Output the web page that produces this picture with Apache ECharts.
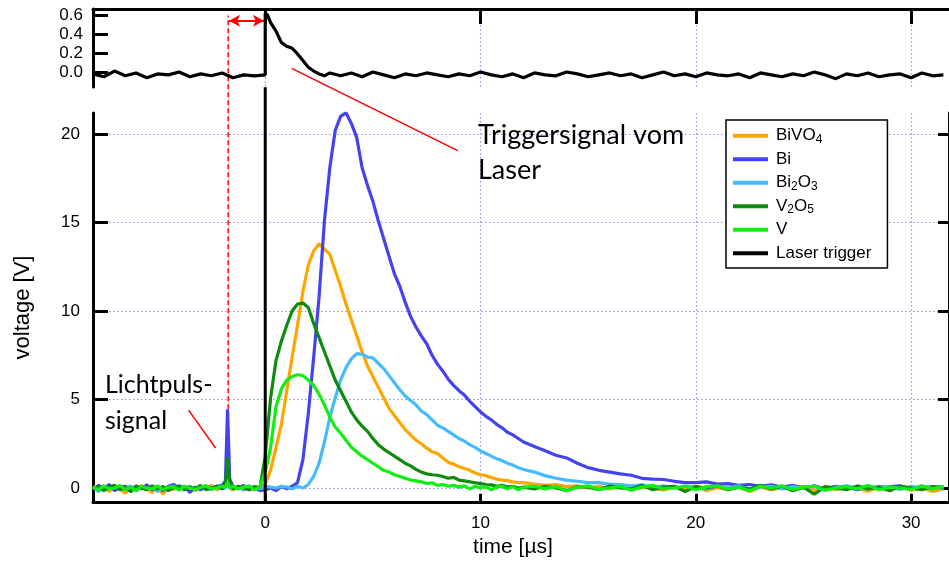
<!DOCTYPE html>
<html><head><meta charset="utf-8">
<script src="https://cdn.jsdelivr.net/npm/echarts@6/dist/echarts.min.js"></script>
<style>html,body{margin:0;padding:0;background:#fff}#c{width:949px;height:564px}</style>
</head><body><div id="c"></div>
<script>
// ---------- data ----------
const time = [-8,-7.75,-7.5,-7.25,-7,-6.75,-6.5,-6.25,-6,-5.75,-5.5,-5.25,-5,-4.75,-4.5,-4.25,-4,-3.75,-3.5,-3.25,-3,-2.75,-2.5,-2.25,-2,
  -1.85,-1.75,-1.65,
  -1.5,-1.25,-1,-0.75,-0.5,-0.25,0,0.25,0.5,0.75,1,1.25,1.5,1.75,2,2.25,2.5,2.75,3,3.25,3.5,3.75,4,4.25,4.5,4.75,5,5.25,5.5,5.75,6,6.25,6.5,6.75,7,7.25,7.5,7.75,8,8.25,8.5,8.75,9,9.25,9.5,9.75,10,10.25,10.5,10.75,11,11.25,11.5,11.75,12,
  12.5,13,13.5,14,14.5,15,15.5,16,16.5,17,17.5,18,18.5,19,19.5,20,20.5,21,21.5,22,22.5,23,23.5,24,24.5,25,25.5,26,26.5,27,27.5,28,28.5,29,29.5,30,30.5,31,31.5];

const bivo4 = [0.1,-0.15,0.05,-0.2,0.12,-0.05,-0.3,0.08,-0.1,0.15,-0.05,-0.25,0.1,-0.35,0.05,-0.1,0.12,-0.08,0.05,-0.15,0.1,-0.05,0.15,-0.1,0.05,
  0.1,0.3,0.0,
  -0.1,0.08,-0.12,0.05,-0.08,0.1,0.25,1.0,2.3,3.6,5.5,7.4,9.2,11.1,12.6,13.4,13.8,13.5,13.2,12.3,11.4,10.4,9.5,8.6,7.7,6.9,6.3,5.7,5.1,4.5,4.1,3.7,3.3,3.0,2.7,2.5,2.25,2.05,1.95,1.7,1.45,1.35,1.2,1.1,1.0,0.85,0.75,0.7,0.6,0.5,0.45,0.42,0.35,0.3,0.3,
  0.22,0.15,0.2,0.08,0.12,0.0,0.1,-0.05,0.08,-0.1,0.05,0.0,-0.12,0.08,-0.05,0.1,-0.15,0.02,-0.08,0.06,-0.2,0.05,-0.1,0.0,-0.05,0.1,-0.15,0.05,-0.1,0.08,-0.02,-0.18,0.05,-0.08,0.1,-0.12,0.0,-0.2,-0.05];

const bi = [-0.1,0.15,-0.05,0.2,-0.15,0.05,0.1,-0.2,0.12,-0.05,0.18,-0.1,0.05,-0.15,0.1,0.2,-0.05,0.1,-0.25,0.05,-0.1,0.12,-0.05,0.08,0.15,
  0.4,4.45,0.5,
  0.1,-0.05,0.15,-0.1,0.05,-0.15,-0.1,0.0,-0.15,0.1,-0.05,0.1,0.3,1.6,4.2,7.4,10.8,15.1,18.1,20.2,21.0,21.2,20.6,19.8,18.1,17.1,16.2,15.1,14.1,13.1,12.1,11.4,10.5,9.7,9.1,8.6,8.15,7.5,7.0,6.6,6.15,5.8,5.5,5.25,4.9,4.6,4.3,4.05,3.85,3.6,3.4,3.15,3.0,2.8,2.6,
  2.35,2.1,1.85,1.7,1.4,1.15,1.0,0.9,0.8,0.72,0.55,0.5,0.48,0.38,0.3,0.3,0.35,0.22,0.25,0.15,0.2,0.1,0.18,0.05,0.15,0.0,0.12,-0.05,0.1,0.05,-0.1,0.1,0.0,0.08,0.12,-0.05,0.1,0.0,0.05];

const bi2o3 = [0.05,-0.2,0.1,-0.05,0.15,-0.1,0.0,0.12,-0.15,0.05,-0.05,0.1,-0.2,0.08,-0.1,0.0,0.15,-0.05,0.1,-0.12,0.05,0.0,-0.1,0.12,-0.05,
  0.0,0.2,0.05,
  -0.05,0.1,-0.1,0.0,0.08,-0.05,0.1,0.05,0.0,0.1,0.05,-0.05,0.1,0.0,0.2,0.65,1.4,2.6,4.0,5.1,6.1,6.8,7.3,7.6,7.55,7.4,7.35,7.05,6.75,6.35,5.95,5.55,5.2,4.95,4.7,4.35,4.15,3.85,3.55,3.4,3.2,3.0,2.8,2.65,2.45,2.3,2.1,1.95,1.8,1.65,1.55,1.4,1.3,1.15,1.05,
  0.9,0.7,0.55,0.45,0.38,0.3,0.3,0.22,0.2,0.12,0.18,0.05,0.12,0.0,0.1,0.05,-0.05,0.1,0.0,0.12,-0.08,0.05,0.1,-0.05,0.08,0.0,0.1,-0.1,0.05,0.12,0.0,-0.05,0.1,0.05,-0.08,0.1,0.0,0.08,-0.05];

const v2o5 = [-0.05,0.1,-0.15,0.05,0.15,-0.1,0.05,-0.2,0.1,0.0,-0.1,0.12,-0.05,0.08,-0.15,0.05,0.1,-0.1,0.05,-0.05,0.15,-0.1,0.0,0.1,-0.05,
  0.2,1.7,0.2,
  -0.05,0.1,0.0,-0.1,0.08,0.0,1.8,5.1,7.2,8.3,9.2,10.0,10.4,10.45,10.2,9.3,8.5,7.7,6.9,6.1,5.5,4.9,4.3,3.85,3.5,3.2,2.8,2.45,2.2,2.0,1.8,1.6,1.4,1.25,1.05,0.9,0.8,0.75,0.72,0.65,0.55,0.6,0.45,0.4,0.35,0.3,0.25,0.2,0.18,0.1,0.15,0.05,0.1,0.0,0.05,
  -0.05,0.1,0.0,-0.15,0.08,0.05,-0.1,0.12,0.0,-0.05,0.15,-0.1,0.05,0.1,-0.2,0.08,0.0,0.12,-0.1,0.05,-0.05,0.15,-0.05,0.1,-0.15,0.05,-0.35,0.08,0.0,-0.1,0.12,-0.05,0.05,-0.15,0.1,0.0,-0.1,0.08,0.05];

const vMetal = [0.05,-0.1,0.12,-0.05,0.0,0.15,-0.1,0.05,-0.15,0.1,0.0,-0.05,0.12,-0.1,0.05,0.08,-0.12,0.1,0.0,-0.08,0.05,0.12,-0.05,0.0,0.1,
  0.05,0.3,0.0,
  0.1,-0.05,0.05,0.12,-0.1,0.05,0.9,2.3,4.6,5.6,6.1,6.3,6.4,6.35,6.1,5.8,5.3,4.7,4.0,3.45,3.1,2.7,2.3,2.05,1.8,1.6,1.4,1.2,1.0,0.9,0.75,0.65,0.55,0.45,0.4,0.35,0.25,0.3,0.15,0.2,0.1,0.15,0.05,0.12,-0.05,0.1,0.0,0.08,-0.1,0.05,0.1,-0.05,0.08,-0.1,0.05,
  0.1,-0.05,0.08,-0.15,0.05,0.12,-0.08,0.0,0.1,-0.12,0.05,0.15,-0.05,0.0,0.1,-0.1,0.08,0.12,-0.05,0.05,-0.15,0.1,0.0,0.12,-0.08,0.05,0.1,-0.12,0.0,0.08,-0.05,0.15,-0.1,0.05,0.0,-0.08,0.12,-0.05,0.1];

const laserTime = [-8,-7.5,-7,-6.5,-6,-5.5,-5,-4.5,-4,-3.5,-3,-2.5,-2,-1.5,-1,-0.5,
  0,0,0.1,0.25,0.5,0.75,1,1.25,1.5,1.75,2,2.25,2.5,2.75,3,
  3.5,4,4.5,5,5.5,6,6.5,7,7.5,8,8.5,9,9.5,10,10.5,11,11.5,12,12.5,13,13.5,14,14.5,15,15.5,16,16.5,17,17.5,18,18.5,19,19.5,20,20.5,21,21.5,22,22.5,23,23.5,24,24.5,25,25.5,26,26.5,27,27.5,28,28.5,29,29.5,30,30.5,31,31.5];
const laserV = [-0.02,-0.05,0.01,-0.04,-0.01,-0.06,-0.02,-0.03,0.0,-0.05,-0.02,-0.04,-0.01,-0.06,-0.03,-0.04,
  -0.03,0.62,0.6,0.52,0.43,0.31,0.27,0.25,0.19,0.12,0.05,0.01,-0.02,-0.04,-0.01,
  -0.04,-0.01,-0.05,0.0,-0.03,-0.06,-0.02,-0.04,-0.01,-0.03,-0.05,-0.02,-0.04,0.0,-0.03,-0.05,-0.02,-0.06,-0.01,-0.03,
  -0.04,0.0,-0.02,-0.05,-0.03,-0.01,-0.04,-0.02,-0.06,-0.03,0.0,-0.04,-0.02,-0.05,-0.01,-0.03,-0.04,-0.02,-0.06,-0.01,
  -0.03,-0.05,-0.02,-0.04,0.0,-0.03,-0.07,-0.02,-0.04,-0.01,-0.05,-0.03,-0.02,-0.06,-0.01,-0.04,-0.03];

// vertical trigger line in the main panel and annotation pointers
const laserLineT = [0, 0];
const laserLineV = [-0.79, 22.65];
const pulseMarkT = [-1.72, -1.72];
const pulseMarkV = [4.45, 26.7];
const trigPointerT = [1.23, 8.94];
const trigPointerV = [23.71, 19.06];
const pulsePointerT = [-3.56, -2.31];
const pulsePointerV = [4.4, 2.26];
const arrowT = [-1.68, -0.06];
const arrowV = [0.54, 0.54];

const xTicks = [0, 10, 20, 30];
const yTicksMain = [0, 5, 10, 15, 20];
const yTicksTop = [0, 0.2, 0.4, 0.6];

const names = ['BiVO4', 'Bi', 'Bi2O3', 'V2O5', 'V', 'Laser trigger'];
const legendLabels = {'BiVO4':'BiVO{s|4}', 'Bi':'Bi', 'Bi2O3':'Bi{s|2}O{s|3}', 'V2O5':'V{s|2}O{s|5}', 'V':'V', 'Laser trigger':'Laser trigger'};
const colors = {'BiVO4':'#FFA500', 'Bi':'#4343F0', 'Bi2O3':'#45BBFF', 'V2O5':'#0E8C0E', 'V':'#11EE11', 'Laser trigger':'#000000'};

// ---------- chart ----------
const zip = (xs, ys) => xs.map((x, i) => [x, ys[i]]);
const FONT = 'Liberation Sans';
const gridColor = '#8C8CFF';
const chart = echarts.init(document.getElementById('c'), null, {renderer: 'canvas'});

function mainSeries(name, vals) {
  return {name, type: 'line', xAxisIndex: 1, yAxisIndex: 1, data: zip(time, vals),
    showSymbol: false, symbol: 'none', color: colors[name],
    lineStyle: {width: 3.2, color: colors[name]}, z: 3};
}
function helper(xs, ys, style, clip) {
  return {type: 'line', xAxisIndex: 1, yAxisIndex: 1, data: zip(xs, ys), showSymbol: false, symbol: 'none',
    clip: clip, silent: true, lineStyle: style, z: 4};
}
const dotted = {color: gridColor, type: [1.5, 2.5], width: 1.2};

chart.setOption({
  animation: false,
  backgroundColor: '#fff',
  grid: [
    {left: 93, top: 9, right: -4, height: 78},
    {left: 93, top: 113, right: -4, bottom: 62}
  ],
  xAxis: [
    {gridIndex: 0, type: 'value', min: -8, max: 31.76, position: 'top',
      axisLine: {show: true, onZero: false, lineStyle: {color: '#000', width: 3}},
      axisTick: {show: true, inside: true, length: 15, customValues: xTicks, lineStyle: {color: '#000', width: 3}},
      axisLabel: {show: false, customValues: xTicks},
      splitLine: {show: true, lineStyle: dotted}},
    {gridIndex: 1, type: 'value', min: -8, max: 31.76, position: 'bottom',
      axisLine: {show: true, onZero: false, lineStyle: {color: '#000', width: 3}},
      axisTick: {show: true, inside: true, length: 8, customValues: xTicks, lineStyle: {color: '#000', width: 3}},
      axisLabel: {customValues: xTicks, fontSize: 17, color: '#000', fontFamily: FONT, margin: 13},
      splitLine: {show: true, lineStyle: dotted},
      name: 'time [µs]', nameLocation: 'middle', nameGap: 35,
      nameTextStyle: {fontSize: 21, color: '#000', fontFamily: FONT, padding: [0, 16, 0, 0]}}
  ],
  yAxis: [
    {gridIndex: 0, type: 'value', min: -0.158, max: 0.663, position: 'left',
      axisLine: {show: true, onZero: false, lineStyle: {color: '#000', width: 3}},
      axisTick: {show: true, inside: true, length: 15, customValues: yTicksTop, lineStyle: {color: '#000', width: 3}},
      axisLabel: {customValues: yTicksTop, fontSize: 17, color: '#000', fontFamily: FONT, margin: 10,
        formatter: v => v.toFixed(1)},
      splitLine: {show: false}},
    {gridIndex: 1, type: 'value', min: -0.79, max: 21.19, position: 'left',
      axisLine: {show: true, onZero: false, lineStyle: {color: '#000', width: 3}},
      axisTick: {show: true, inside: true, length: 15, customValues: yTicksMain, lineStyle: {color: '#000', width: 3}},
      axisLabel: {customValues: yTicksMain, fontSize: 17, color: '#000', fontFamily: FONT, margin: 13},
      splitLine: {show: true, lineStyle: dotted},
      name: 'voltage [V]', nameLocation: 'middle', nameGap: 59,
      nameTextStyle: {fontSize: 22, color: '#000', fontFamily: FONT}},
    {gridIndex: 1, type: 'value', min: -0.79, max: 21.19, position: 'right',
      axisLine: {show: true, onZero: false, lineStyle: {color: '#000', width: 3}},
      axisTick: {show: true, inside: true, length: 11, customValues: yTicksMain, lineStyle: {color: '#000', width: 3}},
      axisLabel: {show: false, customValues: yTicksMain},
      splitLine: {show: false}}
  ],
  legend: {
    data: names, orient: 'vertical', left: 726, top: 120,
    itemWidth: 35, itemHeight: 4, itemGap: 4, icon: 'rect', selectedMode: false,
    padding: [6, 16, 5, 7], borderColor: '#000', borderWidth: 1.5, backgroundColor: '#fff',
    formatter: n => legendLabels[n],
    textStyle: {fontSize: 17, fontFamily: FONT, color: '#000', lineHeight: 19.5, padding: [0, 0, 0, 3],
      rich: {s: {fontSize: 12, fontFamily: FONT, color: '#000', lineHeight: 10, verticalAlign: 'bottom'}}}
  },
  graphic: [
    {type: 'text', left: 478, top: 118, z: 10, silent: true,
      style: {text: 'Triggersignal vom\nLaser', font: '27px Lato', fill: '#000', lineHeight: 35}},
    {type: 'text', left: 105, top: 367, z: 10, silent: true,
      style: {text: 'Lichtpuls-\nsignal', font: '25px Lato', fill: '#000', lineHeight: 36}}
  ],
  series: [
    mainSeries('BiVO4', bivo4),
    mainSeries('Bi', bi),
    mainSeries('Bi2O3', bi2o3),
    mainSeries('V2O5', v2o5),
    mainSeries('V', vMetal),
    {name: 'Laser trigger', type: 'line', xAxisIndex: 0, yAxisIndex: 0, data: zip(laserTime, laserV),
      showSymbol: false, symbol: 'none', color: '#000', lineStyle: {width: 3.2, color: '#000'}, z: 5,
      markLine: {silent: true, symbol: ['arrow', 'arrow'], symbolSize: [9, 11], label: {show: false},
        lineStyle: {color: '#FF0000', width: 2, type: 'solid'},
        data: [[{coord: [arrowT[0], arrowV[0]]}, {coord: [arrowT[1], arrowV[1]]}]]}},
    Object.assign(helper(laserLineT, laserLineV, {color: '#000', width: 3}, false), {name: 'Laser trigger', color: '#000', z: 5}),
    helper(pulseMarkT, pulseMarkV, {color: '#FF0000', width: 1.5, type: [5, 3]}, false),
    helper(trigPointerT, trigPointerV, {color: '#FF0000', width: 1.5}, false),
    helper(pulsePointerT, pulsePointerV, {color: '#FF0000', width: 1.5}, false)
  ]
});
</script>
</body></html>
